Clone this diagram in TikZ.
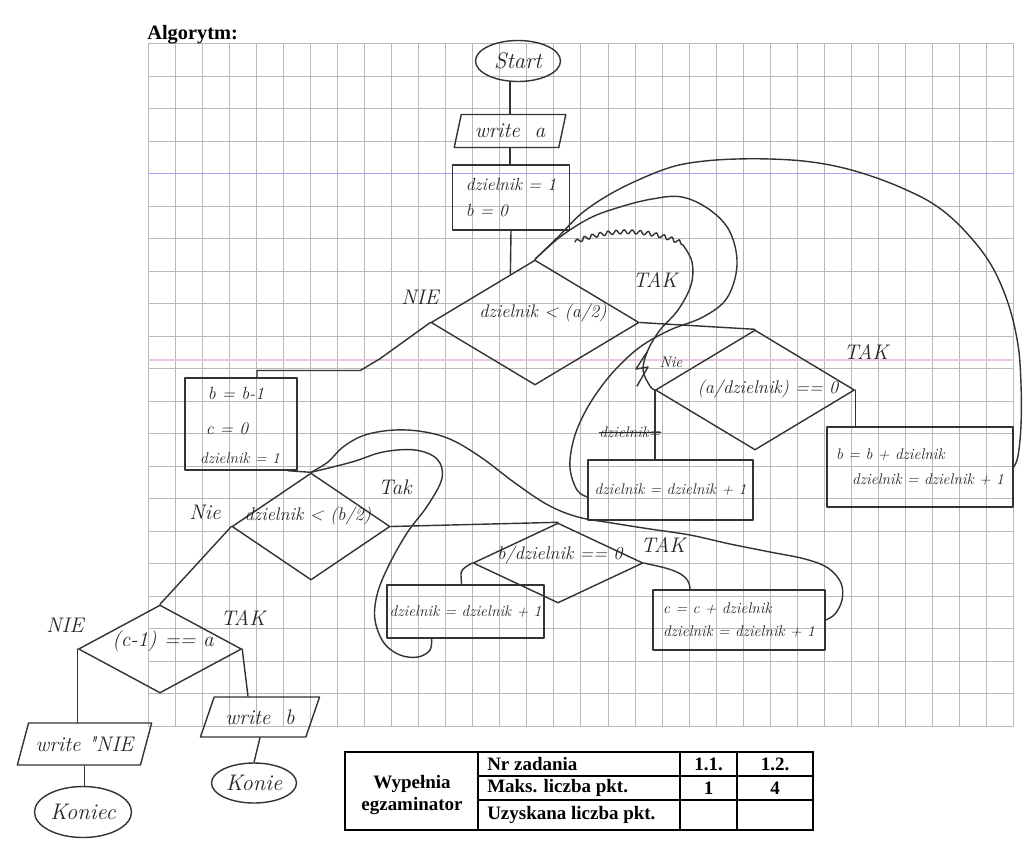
\documentclass[tikz,border=0pt]{standalone}
\usepackage{fontspec}
\newfontfamily\printfont{Liberation Serif}
\usetikzlibrary{shapes.geometric,decorations.pathmorphing}

\begin{document}
\begin{tikzpicture}[%
	x=0.25mm, y=-0.25mm,
	every node/.style = {inner sep=0pt, text=black!85},
	ink/.style = {draw=black!80, line width=1pt, line cap=round, line join=round},
	hand/.style = {font=\fontsize{11}{13}\selectfont\itshape, align=left},
	bighand/.style = {font=\fontsize{12.5}{14}\selectfont\itshape, align=left},
	cond/.style = {font=\fontsize{13}{15}\selectfont\itshape},
	answer/.style = {font=\fontsize{15}{17}\selectfont\itshape},
	terminal/.style = {ink, shape=ellipse, font=\fontsize{16}{18}\selectfont\itshape},
	io/.style = {ink, shape=trapezium, trapezium stretches, font=\fontsize{15}{17}\selectfont\itshape},
	process/.style = {ink, shape=rectangle, hand, inner sep=2pt},
	decision/.style = {ink, shape=diamond},
	gridline/.style = {draw=gray!55, line width=0.5pt},
	printed/.style = {font=\printfont\bfseries\fontsize{13.5}{15}\selectfont, text=black}
	]
  \path[use as bounding box, fill=white] (0,0) rectangle (1025,866);

  % squared paper
  \foreach \i in {0,...,32}
  	\draw[gridline] ({148+\i*27.05},43.5) -- ({148+\i*27.05},726);
  \foreach \j in {0,...,21}
  	\draw[gridline] (148,{43.5+\j*32.5}) -- (1013.6,{43.5+\j*32.5});
  % scanner streaks
  \draw[blue!35, line width=1pt] (148,173.5) -- (1013.6,173.5);
  \draw[violet!22, line width=1pt] (148,360) -- (1013.6,360);

  \node[printed, anchor=west, font=\printfont\bfseries\fontsize{14.5}{16}\selectfont] (title) at (147,35) {Algorytm:};

  % first part: sum of divisors of a
  \node[terminal, minimum width=21.25mm, minimum height=10.25mm] (start) at (518,61) {Start};
  \node[io, trapezium left angle=70, trapezium right angle=110, minimum width=28mm, minimum height=8.25mm] (writea) at (510,131) {write\ \ a};
  \node[process, bighand, minimum width=29.25mm, minimum height=16.25mm] (init) at (511,197.5) {dzielnik = 1\\[5pt] b = 0};
  \node[decision, minimum width=52mm, minimum height=31.25mm] (d1) at (535,322.5) {};
  \node[cond] (d1text) at (543,313) {dzielnik < (a/2)};
  \node[decision, minimum width=49.75mm, minimum height=30mm] (d2) at (755,390) {};
  \node[cond] (d2text) at (768,389) {(a/dzielnik) == 0};
  \node[process, minimum width=41.25mm, minimum height=15mm] (no1) at (670.5,490) {dzielnik = dzielnik + 1};
  \node[process, minimum width=46.5mm, minimum height=20mm] (yes1) at (920,467) {b = b + dzielnik\\[5pt]\hspace*{4mm}dzielnik = dzielnik + 1};
  \node[hand] (struck) at (630,432) {dzielnik=};

  \node[answer] (nie1) at (420,297) {NIE};
  \node[answer] (tak1) at (655,280) {TAK};
  \node[hand] (nie2) at (671,362) {Nie};
  \node[answer] (tak2) at (866,352) {TAK};

  % second part: sum of divisors of b
  \node[process, minimum width=28mm, minimum height=23mm] (reset) at (241,424) {};
  \node[bighand] (reseta) at (236,393) {b = b-1};
  \node[bighand] (resetb) at (227,429) {c = 0};
  \node[hand] (resetc) at (240,458) {dzielnik = 1};
  \node[decision, minimum width=39.5mm, minimum height=26.75mm] (d3) at (311,526.5) {};
  \node[cond] (d3text) at (308,516) {dzielnik < (b/2)};
  \node[decision, minimum width=42.5mm, minimum height=20mm] (d4) at (558,563) {};
  \node[cond] (d4text) at (560,555) {b/dzielnik == 0};
  \node[process, minimum width=38.75mm, minimum height=13.25mm] (no2) at (465.5,611.5) {dzielnik = dzielnik + 1};
  \node[process, minimum width=43mm, minimum height=15mm] (yes2) at (739,620) {c = c + dzielnik\\[3pt] dzielnik = dzielnik + 1};

  \node[answer] (nie3) at (205,512) {Nie};
  \node[answer] (tak3) at (395,487) {Tak};
  \node[answer] (tak4) at (663,545) {TAK};

  % final test
  \node[decision, minimum width=40.75mm, minimum height=22mm] (d5) at (160,649) {};
  \node[cond, font=\fontsize{15}{17}\selectfont\itshape] (d5text) at (163,641) {(c-1) == a};
  \node[io, trapezium left angle=57, trapezium right angle=123, minimum width=33.75mm, minimum height=10.5mm] (writenie) at (84.5,744) {write \textquotedbl NIE};
  \node[io, trapezium left angle=55, trapezium right angle=125, minimum width=30mm, minimum height=10mm] (writeb) at (260,717) {write\ \ b};
  \node[terminal, minimum width=24.25mm, minimum height=12.75mm] (end1) at (83,812) {Koniec};
  \node[terminal, minimum width=21.25mm, minimum height=10mm] (end2) at (254,783) {Konie};
  \node[answer] (nie5) at (65,625) {NIE};
  \node[answer] (tak5) at (243,618) {TAK};

  % connectors, first part
  \draw[ink] (writea.north) -- (writea.north |- start.south);
  \draw[ink] (writea.south) -- (writea.south |- init.north);
  \draw[ink] (init.south) -- (d1.117);
  \draw[ink] (d1.west) -- ++(-50,36) -- ++(-20,12) -| ([xshift=4mm]reset.north);
  \draw[ink] (d1.east) -- (d2.north);
  \draw[ink] (d2.west) -- (d2.west |- no1.north);
  \draw[ink] (d2.east) -- (d2.east |- yes1.north);
  \draw[ink] plot[smooth, tension=0.6] coordinates {([yshift=-1.75mm]no1.west) (577,490) (570,468) (573,442) (582,418) (596,394) (615,370) (640,347) (670,330) (703,317) (727,298) (737,265) (730,232) (710,210) (682,197) (652,199) (620,207) (590,218) (560,237) (d1.north)};
  \draw[ink] plot[smooth, tension=0.6] coordinates {(yes1.east) (1018,456) (1021,425) (1021,385) (1018,345) (1008,303) (990,263) (963,229) (935,205) (902,188) (868,175) (835,166) (803,161) (770,159) (737,159) (705,161) (675,166) (645,177) (612,193) (582,213) (558,237) (d1.north)};
  % crossed out attempt
  \coordinate (scrib) at (575,242);
  \coordinate (scribend) at (683,245);
  \draw[ink, decorate, decoration={snake, amplitude=0.5mm, segment length=2mm}] (scrib) .. controls (610,228) and (650,230) .. (scribend);
  \draw[ink] plot[smooth, tension=0.6] coordinates {(scribend) (692,262) (691,285) (678,310) (660,330) (648,350) (643,370) (650,386) (d2.west)};
  \draw[ink] (647,352) -- (636,369) -- (648,367) -- (637,386);
  \draw[ink, line width=0.6pt] (struck.west) -- (struck.east);

  % connectors, second part
  \draw[ink] ([xshift=-2.5mm]reset.south east) -- (d3.north);
  \draw[ink] (d3.west) -- (d5.north);
  \draw[ink] (d3.east) -- (d4.north);
  \draw[ink] (d4.west) .. controls +(-15,8) and +(0,-12) .. ([xshift=-1mm]no2.north);
  \draw[ink] (d4.east) .. controls +(22,5) and +(0,-18) .. ([xshift=-12.25mm]yes2.north);
  \draw[ink] plot[smooth, tension=0.6] coordinates {([xshift=-8.5mm]no2.south) (430,650) (418,657) (400,655) (384,643) (375,620) (377,595) (388,567) (407,533) (428,505) (442,478) (437,459) (415,450) (383,452) (352,462) (d3.north)};
  \draw[ink] plot[smooth, tension=0.6] coordinates {(yes2.east) (835,614) (842,600) (841,583) (828,568) (805,559) (770,552) (730,544) (690,535) (650,529) (612,523) (578,517) (548,505) (515,483) (482,458) (452,440) (425,432) (395,430) (365,435) (343,447) (328,462) (d3.north)};
  \draw[ink] (d5.west) -- (d5.west |- writenie.north);
  \draw[ink] (d5.east) -- ([xshift=-3mm]writeb.north);
  \draw[ink] (writenie.south) -- (writenie.south |- end1.north);
  \draw[ink] (writeb.south) -- (end2.north);

  % examiner table
  \draw[black, line width=0.8pt] (345,752) rectangle (813,830);
  \draw[black, line width=0.8pt] (478,752) -- (478,830) (680,752) -- (680,830) (737,752) -- (737,830)
  	(478,776) -- (813,776) (478,800) -- (813,800);
  \node[printed, align=center] (examiner) at (412,795) {Wypełnia\\egzaminator};
  \node[printed, anchor=west] (task) at (487,764) {Nr zadania};
  \node[printed, anchor=west] (maxpts) at (487,788) {Maks. liczba pkt.};
  \node[printed, anchor=west] (gotpts) at (487,815) {Uzyskana liczba pkt.};
  \node[printed] (t11) at (708.5,764) {1.1.};
  \node[printed] (t12) at (775,764) {1.2.};
  \node[printed] (m11) at (708.5,788) {1};
  \node[printed] (m12) at (775,788) {4};
\end{tikzpicture}
\end{document}
